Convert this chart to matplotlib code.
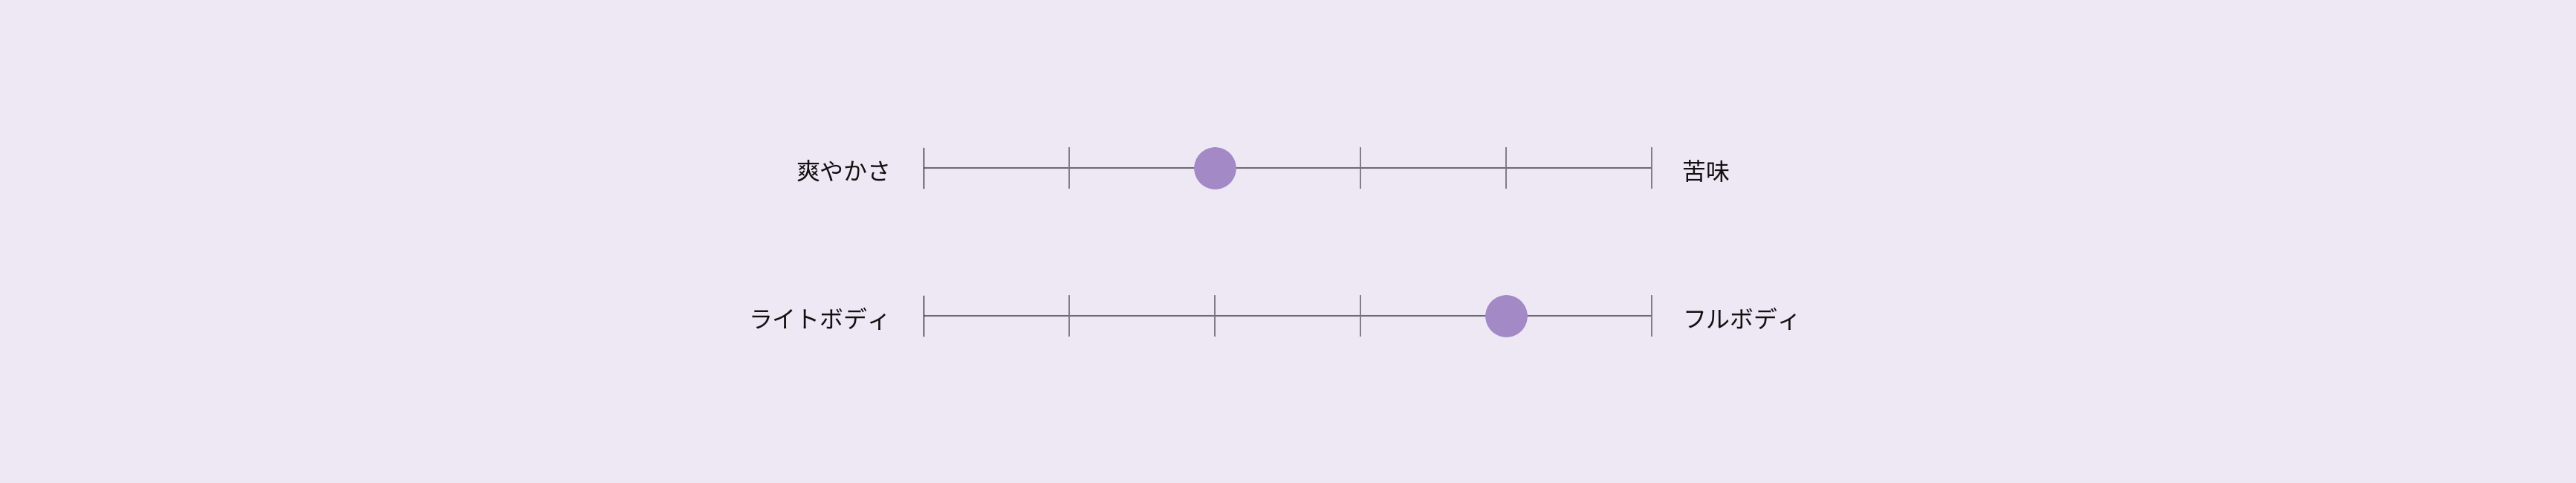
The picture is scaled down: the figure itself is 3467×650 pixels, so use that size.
import matplotlib
matplotlib.use("Agg")
import matplotlib.pyplot as plt

plt.rcParams['font.family'] = ['Noto Sans CJK JP', 'DejaVu Sans']

left_labels = ["爽やかさ", "ライトボディ"]
right_labels = ["苦味", "フルボディ"]
values = [2, 4]
scale_ticks = [0, 1, 2, 3, 4, 5]

BG = "#EEE8F5"
W, H, DPI = 3467, 650, 100
fig = plt.figure(figsize=(W / DPI, H / DPI), dpi=DPI, facecolor=BG)

x0_px, x1_px = 1243, 2223
row_px = [225.7, 425.0]
sp = row_px[1] - row_px[0]
ax = fig.add_axes([x0_px / W, 0, (x1_px - x0_px) / W, 1])
ax.set_facecolor(BG)
ax.set_xlim(scale_ticks[0], scale_ticks[-1])
ax.set_ylim((H - row_px[0]) / sp, -row_px[0] / sp)
ax.axis('off')

unit_px = (x1_px - x0_px) / (scale_ticks[-1] - scale_ticks[0])
half = 27 / sp
for i, (ll, rl, v) in enumerate(zip(left_labels, right_labels, values)):
    ax.plot([scale_ticks[0], scale_ticks[-1]], [i, i], color="#6f6a74", lw=1.5,
            solid_capstyle='butt', clip_on=False, zorder=1)
    for t in scale_ticks:
        if t == scale_ticks[0]:
            ax.plot([t, t], [i - half, i + half], color="#111111", lw=0.9, clip_on=False, zorder=2)
        else:
            ax.plot([t, t], [i - half, i + half], color="#77727d", lw=1.3, clip_on=False, zorder=2)
    ax.plot([v], [i], 'o', ms=40.8, color="#A389C6", mec='none', zorder=3, clip_on=False)
    ax.text(scale_ticks[0] - 43 / unit_px, i + 7 / sp, ll, ha='right', va='center',
            fontsize=23, color="#111111")
    ax.text(scale_ticks[-1] + 41 / unit_px, i + 7 / sp, rl, ha='left', va='center',
            fontsize=23, color="#111111")

fig.savefig("out.png", dpi=DPI, facecolor=BG)
